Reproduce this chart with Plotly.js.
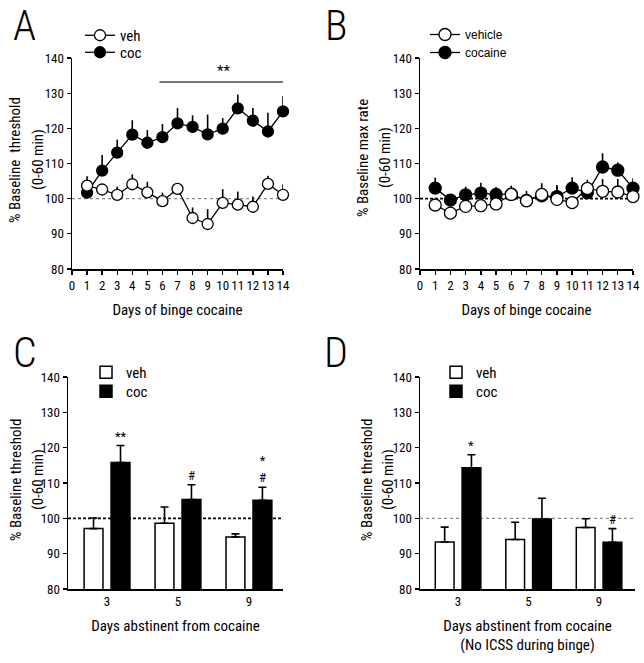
<!DOCTYPE html>
<html>
<head>
<meta charset="utf-8">
<script src="https://cdn.plot.ly/plotly-3.0.1.min.js"></script>
<style>html,body{margin:0;padding:0;background:#fff;}#chart{width:644px;height:663px;}</style>
</head>
<body>
<div id="chart"></div>
<script>
// ---- Panel A: % baseline threshold during binge ----
const days = [1,2,3,4,5,6,7,8,9,10,11,12,13,14];
const aVeh = [103.7,102.6,101.1,104.1,101.8,99.3,102.8,94.5,92.8,98.8,98.3,97.7,104.2,101.1];
const aVehErr = [2.7,1.0,2.3,2.8,3.0,2.4,1.0,3.0,4.2,3.9,3.7,2.9,2.3,3.0];
const aCoc = [101.7,108.0,113.1,118.2,115.9,117.5,121.4,120.4,118.3,119.9,125.7,122.2,119.1,124.8];
const aCocErr = [2.0,4.4,3.7,4.1,3.6,3.7,4.4,3.3,5.6,3.0,3.9,3.6,5.3,4.3];
const aSigRange = [5.8,14.3];
const aSigLevel = 133.2;
const aSigText = '**';

// ---- Panel B: % baseline max rate during binge ----
const bVeh = [98.2,95.9,97.8,98.0,98.5,101.2,99.4,101.2,99.8,98.9,102.9,102.1,101.9,100.6];
const bVehErr = [1.0,1.2,1.0,1.0,1.0,1.5,2.8,3.2,4.1,1.0,2.5,3.5,3.7,1.0];
const bCoc = [103.0,99.6,101.1,101.6,101.2,101.3,99.5,100.8,100.6,103.0,101.7,109.0,108.1,103.0];
const bCocErr = [3.0,1.6,2.3,2.9,2.1,2.4,1.0,1.0,3.0,3.1,3.0,3.9,2.2,2.8];

// ---- Panels C & D: abstinence ----
const absDays = ['3','5','9'];
const cVeh = [97.1,98.6,94.7];
const cVehErr = [3.0,4.6,0.9];
const cCoc = [115.8,105.3,105.1];
const cCocErr = [4.8,4.2,3.7];
const cSig = ['**','#','*<br>#'];
const dVeh = [93.3,94.0,97.4];
const dVehErr = [4.2,4.9,2.5];
const dCoc = [114.3,99.8,93.2];
const dCocErr = [3.7,5.9,3.9];
const dSig = ['*','','#'];

// ---- Text ----
const panelLetters = ['A','B','C','D'];
const yTitles = [
  ['% Baseline  threshold','(0-60 min)'],
  ['% Baseline max rate','(0-60 min)'],
  ['% Baseline threshold','(0-60 min)'],
  ['% Baseline threshold','(0-60 min)']
];
const xTitles = ['Days of binge cocaine','Days of binge cocaine','Days abstinent from cocaine','Days abstinent from cocaine<br>(No ICSS during binge)'];

const FONT = 'Roboto Condensed, DejaVu Sans Condensed, sans-serif';

function err(arr, w){ return {type:'data', symmetric:false, array:arr, arrayminus:arr.map(()=>0), color:'#000', thickness:1.6, width:w}; }

function lineTrace(x, y, e, name, filled, xa, ya, leg, msize){
  return {x:x, y:y, type:'scatter', mode:'lines+markers', name:name, xaxis:xa, yaxis:ya, legend:leg,
    showlegend:true,
    line:{color:'#000', width:1.3},
    marker:{size:msize, color: filled ? '#000' : '#fff', line:{color:'#000', width:1.3}},
    error_y: err(e, 0), cliponaxis:false};
}
function barTrace(x, y, e, name, filled, xa, ya, leg){
  return {x:x, y:y, type:'bar', name:name, xaxis:xa, yaxis:ya, legend:leg, showlegend:true,
    marker:{color: filled ? '#000' : '#fff', line:{color:'#000', width:1.5}},
    error_y: err(e, 4)};
}

const data = [
  lineTrace(days, aCoc, aCocErr, 'coc', true, 'x', 'y', 'legend2', 11),
  lineTrace(days, aVeh, aVehErr, 'veh', false, 'x', 'y', 'legend', 11),
  lineTrace(days, bCoc, bCocErr, 'cocaine', true, 'x2', 'y2', 'legend4', 12),
  lineTrace(days, bVeh, bVehErr, 'vehicle', false, 'x2', 'y2', 'legend3', 12),
  barTrace(absDays, cVeh, cVehErr, 'veh', false, 'x3', 'y3', 'legend5'),
  barTrace(absDays, cCoc, cCocErr, 'coc', true, 'x3', 'y3', 'legend6'),
  barTrace(absDays, dVeh, dVehErr, 'veh', false, 'x4', 'y4', 'legend7'),
  barTrace(absDays, dCoc, dCocErr, 'coc', true, 'x4', 'y4', 'legend8')
];

const W = 644, H = 663;
const px = v => v / W, py = v => 1 - v / H;
const titleFont = {family:FONT, size:15, color:'#000'};

function xax(dom, extra){
  return Object.assign({domain:dom, showline:true, linewidth:1.5, linecolor:'#000', ticks:'outside', ticklen:4,
    tickwidth:1.3, tickcolor:'#000', showgrid:false, zeroline:false, tickangle:0,
    tickfont:{family:FONT, size:13, color:'#000'}, fixedrange:true}, extra);
}
function yax(dom, anchor){
  return {domain:dom, anchor:anchor, range:[80,140], dtick:10, showline:true, linewidth:1.5, linecolor:'#000',
    ticks:'outside', ticklen:4, tickwidth:1.3, tickcolor:'#000', showgrid:false, zeroline:false,
    tickfont:{family:FONT, size:13, color:'#000'}, fixedrange:true};
}

const topDom = [py(269), py(58)];
const botDom = [py(589), py(377)];

const legBase = {bgcolor:'rgba(0,0,0,0)', xanchor:'left', yanchor:'top', tracegroupgap:0, itemwidth:30,
  font:{family:FONT, size:15, color:'#000'}, visible:true};
const legB = {font:{family:'Liberation Sans, Arial, sans-serif', size:12, color:'#000'}};
function leg(x, y, extra){ return Object.assign({}, legBase, {x:px(x), y:py(y)}, extra || {}); }

const layout = {
  width:W, height:H, margin:{l:0, r:0, t:0, b:0}, paper_bgcolor:'#fff', plot_bgcolor:'#fff',
  font:{family:FONT, color:'#000'}, showlegend:true,
  barmode:'group', bargap:0.24, bargroupgap:0.3,
  xaxis: xax([px(72), px(283)], {anchor:'y', range:[0,14], dtick:1, title:{text:xTitles[0], font:titleFont, standoff:12}}),
  yaxis: yax(topDom, 'x'),
  xaxis2: xax([px(420), px(633)], {anchor:'y2', range:[0,14], dtick:1, title:{text:xTitles[1], font:titleFont, standoff:12}}),
  yaxis2: yax(topDom, 'x2'),
  xaxis3: xax([px(68), px(283)], {anchor:'y3', type:'category', range:[-0.55,2.48], ticks:'', title:{text:xTitles[2], font:titleFont, standoff:12}}),
  yaxis3: yax(botDom, 'x3'),
  xaxis4: xax([px(420), px(635)], {anchor:'y4', type:'category', range:[-0.54,2.51], ticks:'', title:{text:xTitles[3], font:titleFont, standoff:12}}),
  yaxis4: yax(botDom, 'x4'),
  legend: leg(80, 19),
  legend2: leg(80, 36),
  legend3: leg(425, 20, legB),
  legend4: leg(425, 38, legB),
  legend5: leg(86, 356),
  legend6: leg(86, 375),
  legend7: leg(436, 356),
  legend8: leg(436, 375),
  shapes: [
    {type:'line', xref:'x domain', yref:'y', x0:0, x1:1, y0:100, y1:100, layer:'below', line:{color:'#888', width:1.2, dash:'dot'}},
    {type:'line', xref:'x2 domain', yref:'y2', x0:0, x1:1, y0:100, y1:100, layer:'below', line:{color:'#000', width:1.6, dash:'3px,2px'}},
    {type:'line', xref:'x3 domain', yref:'y3', x0:0, x1:1, y0:100, y1:100, layer:'below', line:{color:'#000', width:1.6, dash:'3px,2px'}},
    {type:'line', xref:'x4 domain', yref:'y4', x0:0, x1:1, y0:100, y1:100, layer:'below', line:{color:'#888', width:1.2, dash:'dot'}},
    {type:'line', xref:'x', yref:'y', x0:aSigRange[0], x1:aSigRange[1], y0:aSigLevel, y1:aSigLevel, line:{color:'#777', width:2}}
  ],
  annotations: []
};

const letterFont = {family:FONT, size:42, color:'#000', weight:300};
const letterPos = [[25,0],[336,0],[25,327],[336,327]];
panelLetters.forEach((t,i) => {
  layout.annotations.push({text:t, xref:'paper', yref:'paper', x:px(letterPos[i][0]), y:py(letterPos[i][1]), xanchor:'center', yanchor:'top', borderpad:0, showarrow:false, font:letterFont});
});
// two-line y-axis titles
const yTitlePos = [[15,38,160],[363,385,158],[16,38,480],[367,388,480]];
yTitles.forEach((lines,i) => {
  const [x1, x2, yc] = yTitlePos[i];
  [x1, x2].forEach((xx, j) => {
    layout.annotations.push({text:lines[j], xref:'paper', yref:'paper', x:px(xx), y:py(yc), xanchor:'center', yanchor:'middle', textangle:-90, showarrow:false, font:titleFont});
  });
});
layout.annotations.push({text:aSigText, xref:'x', yref:'y', x:(aSigRange[0]+aSigRange[1])/2, y:aSigLevel, yanchor:'bottom', showarrow:false, font:{family:FONT, size:15, color:'#000'}});
const sigFont = {family:FONT, size:13, color:'#000'};
cSig.forEach((s,i) => { if (s) layout.annotations.push({text:s, xref:'x3', yref:'y3', x:i+0.19, y:cCoc[i]+cCocErr[i], yanchor:'bottom', showarrow:false, font:sigFont}); });
dSig.forEach((s,i) => { if (s) layout.annotations.push({text:s, xref:'x4', yref:'y4', x:i+0.19, y:dCoc[i]+dCocErr[i], yanchor:'bottom', showarrow:false, font:sigFont}); });

Plotly.newPlot('chart', data, layout, {displayModeBar:false, staticPlot:true});
</script>
</body>
</html>
